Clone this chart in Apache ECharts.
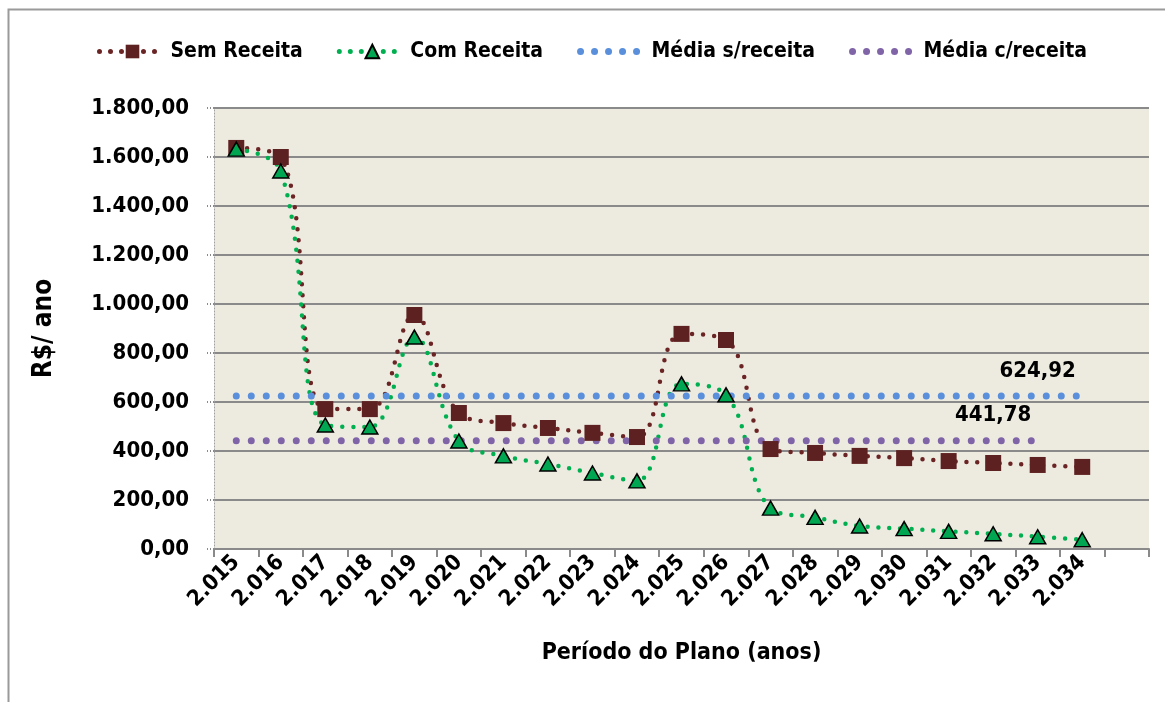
<!DOCTYPE html>
<html>
<head>
<meta charset="utf-8">
<script src="https://cdn.jsdelivr.net/npm/echarts@6/dist/echarts.min.js"></script>
<style>
  html, body { margin: 0; padding: 0; background: #fff; }
  #chart { width: 1165px; height: 702px; }
</style>
</head>
<body>
<div id="chart"></div>
<script>
// categories (the last slot is empty in the original chart)
const anos = ['2.015', '2.016', '2.017', '2.018', '2.019', '2.020', '2.021', '2.022', '2.023', '2.024',
  '2.025', '2.026', '2.027', '2.028', '2.029', '2.030', '2.031', '2.032', '2.033', '2.034', '']

const semReceita = [1637, 1600, 571, 571, 955, 555, 514, 494, 474, 457, 878, 853, 408, 392, 380, 371, 359, 351, 343, 335]
const comReceita = [1632, 1543, 506, 498, 865, 441, 380, 347, 310, 278, 674, 629, 167, 129, 94, 83, 72, 62, 50, 38]
const mediaSem = [624.92, 624.92, 624.92, 624.92, 624.92, 624.92, 624.92, 624.92, 624.92, 624.92,
  624.92, 624.92, 624.92, 624.92, 624.92, 624.92, 624.92, 624.92, 624.92, 624.92]
const mediaCom = [441.78, 441.78, 441.78, 441.78, 441.78, 441.78, 441.78, 441.78, 441.78, 441.78,
  441.78, 441.78, 441.78, 441.78, 441.78, 441.78, 441.78, 441.78, 441.78]
const labelSemIdx = 18 // where the average value is written
const labelComIdx = 17

const FONT = '"DejaVu Sans Condensed", "Liberation Sans Narrow", "Arial Narrow", sans-serif'

function fmtBR(v, dec) {
  const parts = Number(v).toFixed(dec).split('.')
  const int = parts[0].replace(/\B(?=(\d{3})+(?!\d))/g, '.')
  return parts[1] ? int + ',' + parts[1] : int
}

function withLabel(arr, idx) {
  return arr.map((v, i) => {
    if (i !== idx) return v
    return {
      value: v,
      label: {
        show: true,
        position: 'top',
        distance: 14,
        formatter: p => fmtBR(p.value, 2),
        color: '#000',
        fontFamily: FONT,
        fontWeight: 'bold',
        fontSize: 22
      }
    }
  })
}

const dotLegend = (color) => ({ color: color, width: 5, type: [0, 11], cap: 'round' })

const chart = echarts.init(document.getElementById('chart'), null, { renderer: 'canvas' })

chart.setOption({
  animation: false,
  backgroundColor: '#fff',
  graphic: [{
    type: 'rect',
    left: 6,
    top: 7,
    shape: { width: 1300, height: 900 },
    style: { fill: 'none', stroke: '#9a9a9a', lineWidth: 2 },
    silent: true
  }],
  legend: {
    left: 92,
    top: 36,
    itemWidth: 66,
    itemHeight: 17,
    itemGap: 34,
    textStyle: { fontFamily: FONT, fontWeight: 'bold', fontSize: 21, color: '#000' },
    data: [
      { name: 'Sem Receita', lineStyle: dotLegend('#6A2424') },
      { name: 'Com Receita', lineStyle: dotLegend('#00B050') },
      { name: 'Média s/receita', itemStyle: { opacity: 0 }, lineStyle: { color: '#5A8FDB', width: 7, type: [0, 14], cap: 'round' } },
      { name: 'Média c/receita', itemStyle: { opacity: 0 }, lineStyle: { color: '#8064A8', width: 7, type: [0, 14], cap: 'round' } }
    ]
  },
  grid: {
    left: 214,
    right: 16,
    top: 108,
    bottom: 153,
    show: true,
    backgroundColor: '#EDEAE0',
    borderWidth: 0
  },
  xAxis: {
    type: 'category',
    data: anos,
    boundaryGap: true,
    name: 'Período do Plano (anos)',
    nameLocation: 'middle',
    nameGap: 93,
    nameTextStyle: { fontFamily: FONT, fontWeight: 'bold', fontSize: 23, color: '#000' },
    axisLine: { lineStyle: { color: '#8a8a8a', width: 2 } },
    axisTick: { show: true, length: 8, lineStyle: { color: '#8a8a8a', width: 2 } },
    axisLabel: {
      interval: 0,
      rotate: 45,
      margin: 10,
      fontFamily: FONT,
      fontWeight: 'bold',
      fontSize: 22,
      color: '#000'
    },
    splitLine: { show: false }
  },
  yAxis: {
    type: 'value',
    min: 0,
    max: 1800,
    interval: 200,
    name: 'R$/ ano',
    nameLocation: 'middle',
    nameRotate: 90,
    nameGap: 157,
    nameTextStyle: { fontFamily: FONT, fontWeight: 'bold', fontSize: 26, color: '#000' },
    axisLine: { show: true, lineStyle: { color: '#a0a0a0', width: 1, type: [1, 2] } },
    axisTick: { show: true, length: 7, lineStyle: { color: '#8a8a8a', width: 2, type: [1, 2] } },
    axisLabel: {
      margin: 25,
      formatter: v => fmtBR(v, 2),
      fontFamily: FONT,
      fontWeight: 'bold',
      fontSize: 22,
      color: '#000'
    },
    splitLine: { show: true, lineStyle: { color: '#8a8a8a', width: 2 } }
  },
  series: [
    {
      name: 'Sem Receita',
      type: 'line',
      data: semReceita,
      smooth: 0.4,
      symbol: 'rect',
      symbolSize: 16,
      itemStyle: { color: '#5E2121' },
      lineStyle: { color: '#6A2424', width: 4.5, type: [0, 11], cap: 'round' }
    },
    {
      name: 'Com Receita',
      type: 'line',
      data: comReceita,
      smooth: 0.4,
      symbol: 'triangle',
      symbolSize: [16, 14],
      itemStyle: { color: '#00A651', borderColor: '#000', borderWidth: 1.5 },
      lineStyle: { color: '#00B050', width: 4.5, type: [0, 11], cap: 'round' }
    },
    {
      name: 'Média s/receita',
      type: 'line',
      data: withLabel(mediaSem, labelSemIdx),
      symbol: 'circle',
      symbolSize: 0.01,
      showSymbol: true,
      itemStyle: { color: '#5A8FDB' },
      lineStyle: { color: '#5A8FDB', width: 7, type: [0, 15], cap: 'round' }
    },
    {
      name: 'Média c/receita',
      type: 'line',
      data: withLabel(mediaCom, labelComIdx),
      symbol: 'circle',
      symbolSize: 0.01,
      showSymbol: true,
      itemStyle: { color: '#8064A8' },
      lineStyle: { color: '#8064A8', width: 7, type: [0, 15], cap: 'round' }
    }
  ]
})
</script>
</body>
</html>
